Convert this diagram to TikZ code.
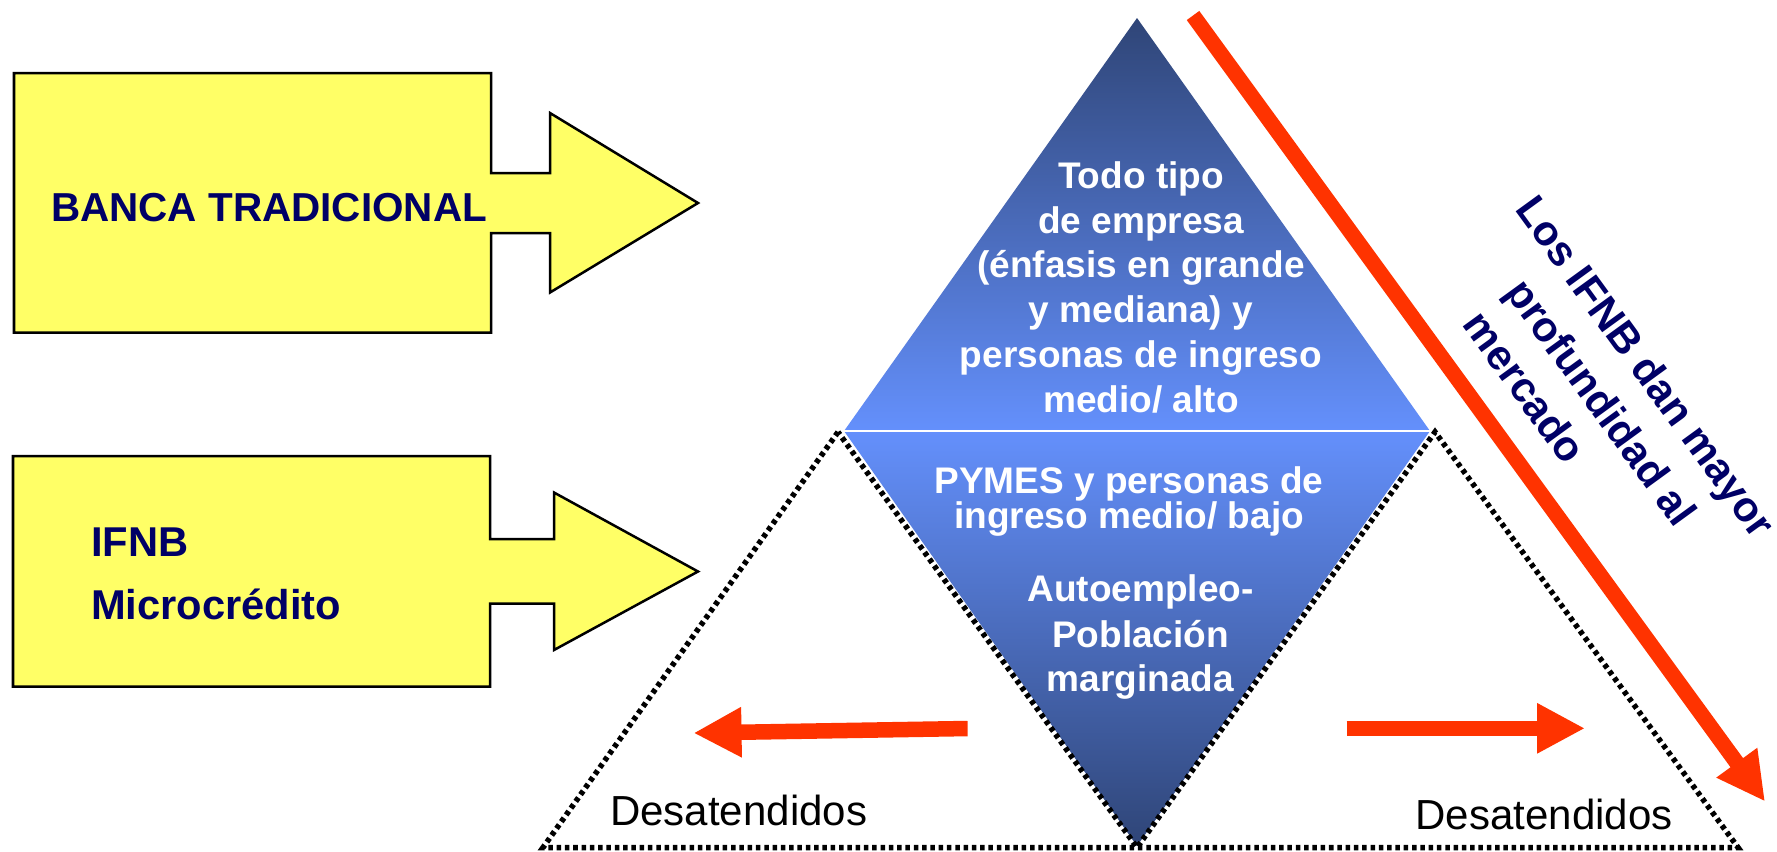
\documentclass[tikz,border=0pt]{standalone}
\usepackage{fontspec}
\setmainfont{Liberation Sans}
\usetikzlibrary{arrows.meta}
\definecolor{yfill}{HTML}{FFFF66}
\definecolor{navy}{HTML}{000066}
\definecolor{redc}{HTML}{FF3300}
\definecolor{dkblue}{HTML}{2F4577}
\definecolor{ltblue}{HTML}{6490FC}
\newcommand\pxfont[1]{\fontsize{#1}{#1}\selectfont}
\begin{document}
\begin{tikzpicture}[x=0.01cm,y=-0.01cm,
  ybox/.style={draw=black,line width=0.25mm,fill=yfill,line join=miter},
  navytxt/.style={text=navy,font=\bfseries\pxfont{11.5pt},inner sep=0,anchor=base west},
  wtxt/.style={text=white,font=\bfseries\pxfont{10.53pt},inner sep=0,anchor=base},
  rottxt/.style={text=navy,font=\bfseries\pxfont{11.95pt},inner sep=0,anchor=base west,rotate=-54},
  dtxt/.style={text=black,font=\pxfont{11.95pt},inner sep=0,anchor=base west},
  redarrow/.style={draw=redc,line width=1.55mm,-{Triangle[length=4.8mm,width=4.7mm]}},
  dotline/.style={draw=black,line width=0.55mm,dash pattern=on 0.45mm off 0.38mm}]
\useasboundingbox (0,0) rectangle (1777,851);

% yellow block arrows
\draw[ybox] (14,73) -- (491,73) -- (491,173) -- (550,173) -- (550,113) -- (698,203)
  -- (550,292.5) -- (550,233) -- (491,233) -- (491,332.5) -- (14,332.5) -- cycle;
\draw[ybox] (13,456) -- (490,456) -- (490,539) -- (554,539) -- (554,492.5) -- (698,571.5)
  -- (554,650) -- (554,603.5) -- (490,603.5) -- (490,686.5) -- (13,686.5) -- cycle;
\node[navytxt] (banca) at (50.5,221) {BANCA TRADICIONAL};
\node[navytxt,font=\bfseries\pxfont{11.85pt}] (ifnb) at (90.5,556) {IFNB};
\node[navytxt,font=\bfseries\pxfont{11.85pt}] (micro) at (90.5,619) {Microcrédito};

% diamond
\coordinate (dtop) at (1137,18);
\coordinate (dleft) at (844,431);
\coordinate (dright) at (1430,431);
\coordinate (dbot) at (1137,846);
\shade[top color=dkblue,bottom color=ltblue] (dtop) -- (dright) -- (dleft) -- cycle;
\shade[top color=ltblue,bottom color=dkblue] (dleft) -- (dright) -- (dbot) -- cycle;
\draw[white,line width=0.2mm] (dleft) -- (dright);

% dotted triangles
\coordinate (ltop) at (838,432);
\coordinate (lbl) at (543,847.5);
\coordinate (rtop) at (1435,432);
\coordinate (rbr) at (1738,847.5);
\coordinate (bmid) at (1137,847.5);
\draw[dotline] (ltop) -- (lbl) -- (rbr) -- (rtop) -- (bmid) -- cycle;

% diamond texts
\node[wtxt] (t1) at (1141,188.3) {Todo tipo};
\node[wtxt] (t2) at (1141,233) {de empresa};
\node[wtxt] (t3) at (1141,277.7) {(énfasis en grande};
\node[wtxt] (t4) at (1141,322.7) {y mediana) y};
\node[wtxt] (t5) at (1141,367.3) {personas de ingreso};
\node[wtxt] (t6) at (1141,412.3) {medio/ alto};
\node[wtxt] (p1) at (1129,493.3) {PYMES y personas de};
\node[wtxt] (p2) at (1129,528.3) {ingreso medio/ bajo};
\node[wtxt] (a1) at (1140.5,601.7) {Autoempleo-};
\node[wtxt] (a2) at (1140.5,647.7) {Población};
\node[wtxt] (a3) at (1140.5,691.7) {marginada};

% red arrows
\coordinate (la0) at (967.6,728.5);
\coordinate (la1) at (693.5,733);
\draw[redarrow] (la0) -- (la1);
\coordinate (ra0) at (1346.5,728.3);
\coordinate (ra1) at (1585,728.3);
\draw[redarrow] (ra0) -- (ra1);
\coordinate (da0) at (1193,15.5);
\coordinate (da1) at (1765,801.5);
\draw[redarrow] (da0) -- (da1);

% rotated text
\node[rottxt] (r1) at (1513.7,209.4) {Los IFNB dan mayor};
\node[rottxt] (r2) at (1503.6,292.3) {profundidad al};
\node[rottxt] (r3) at (1461.3,324.3) {mercado};

% labels
\node[dtxt] (dl) at (609.5,825) {Desatendidos};
\node[dtxt] (dr) at (1414.8,829) {Desatendidos};
\end{tikzpicture}
\end{document}
